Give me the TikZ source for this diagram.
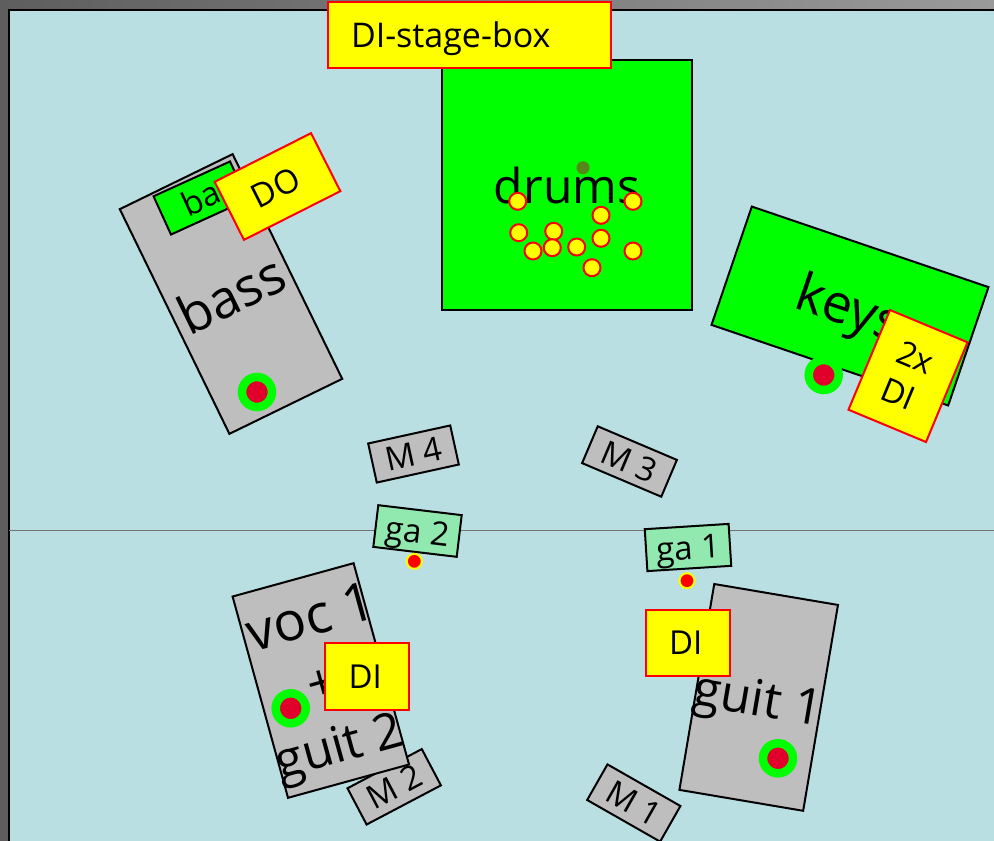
\documentclass[tikz,border=0pt]{standalone}
\usepackage{fontspec}
\setmainfont{Open Sans}
\usepackage{xcolor}
\usetikzlibrary{positioning}
\definecolor{stagebg}{HTML}{B9DFE3}
\definecolor{stagegrey}{HTML}{BEBEBE}
\definecolor{ampgreen}{HTML}{92E9B0}
\definecolor{micred}{HTML}{E0002B}
\definecolor{frameleft}{HTML}{5E5E5E}
\definecolor{frameright}{HTML}{9A9A9A}
\definecolor{diyellow}{RGB}{255,255,0}
\definecolor{deskgreen}{RGB}{0,255,0}
\definecolor{plugred}{RGB}{255,0,0}
\begin{document}
\begin{tikzpicture}[x=1pt, y=-1pt]
  \tikzset{instr/.style={draw=black, line width=2pt, align=center, inner sep=0pt, font=\fontsize{50}{65}\selectfont},
    greybox/.style={instr, fill=stagegrey},
    greenbox/.style={instr, fill=deskgreen},
    mon/.style={greybox, minimum width=84pt, minimum height=40pt, font=\fontsize{33}{40}\selectfont},
    amp/.style={instr, fill=ampgreen, minimum width=84pt, minimum height=42pt, text depth=0pt, font=\fontsize{33}{40}\selectfont},
    dibox/.style={draw=plugred, line width=2pt, fill=diyellow, align=center, inner sep=0pt, font=\fontsize{33}{40}\selectfont},
    plug/.style={circle, draw=plugred, line width=2pt, fill=diyellow, inner sep=0pt, minimum size=17pt},
    vocdot/.style={circle, draw=diyellow, line width=2pt, fill=plugred, inner sep=0pt, minimum size=15pt},
    stand/.style={circle, draw=deskgreen, line width=8.5pt, fill=micred, inner sep=0pt, minimum size=30pt}}
  \useasboundingbox (0,0) rectangle (994,841);
  \fill[left color=frameleft, right color=frameright] (0,0) rectangle (994,841);
  \filldraw[fill=stagebg, draw=black, line width=2.5pt] (9,10) rectangle (1000,850);
  \coordinate (rimL) at (9,530);
  \coordinate (rimR) at (994,530);
  \draw[line width=0.8pt, black!55] (rimL) -- (rimR);
  % back line
  \node[greenbox, minimum width=250pt, minimum height=250pt, font=\fontsize{48}{60}\selectfont] (drums) at (567,185) {drums};
  \node[greybox, minimum width=125.5pt, minimum height=250pt, rotate=26, font=\fontsize{53}{60}\selectfont] (bass) at (231,294) {bass};
  \node[greenbox, minimum width=84pt, minimum height=42pt, rotate=24.5, font=\fontsize{33}{40}\selectfont] (bamp) at (200.5,198) {ba};
  \node[dibox, minimum width=108pt, minimum height=65pt, rotate=26.8] (do) at (277.5,186.5) {DO\kern4pt};
  \node[greenbox, minimum width=250pt, minimum height=125pt, rotate=-18.8, text depth=0pt, font=\fontsize{53}{60}\selectfont] (keys) at (850,306) {keys};
  \node[dibox, minimum width=84pt, minimum height=108pt, rotate=-22.6] (keysdi) at (908,376) {2x\\DI\kern4pt};
  \node[dibox, minimum width=283pt, minimum height=66pt, align=left, text width=237pt, text depth=0pt, font=\fontsize{34}{40}\selectfont] (stagebox) at (469.5,35) {DI-stage-box};
  % monitors
  \node[mon, rotate=12.4] (m4) at (413.5,454) {M 4};
  \node[mon, rotate=-23, minimum width=86pt] (m3) at (629.5,461.5) {M 3};
  \node[mon, rotate=27.8, minimum height=41pt] (m2) at (394.2,786.8) {M 2};
  \node[mon, rotate=-29.7, minimum height=41pt] (m1) at (633.8,803) {M 1};
  % front line
  \node[amp, rotate=-6.8] (ga2) at (417.5,531) {ga 2};
  \node[amp, rotate=3.6] (ga1) at (688,547.5) {ga 1};
  \node[greybox, minimum width=125.5pt, minimum height=208.8pt, rotate=15.4] (voc) at (320.8,680.5) {\rule{0pt}{51pt}\makebox[0pt]{\fontsize{54}{65}\selectfont\kern14pt voc 1}\\+\\\makebox[0pt]{guit 2}};
  \node[greybox, minimum width=125.5pt, minimum height=208.8pt, rotate=-9.6, text depth=0pt] (guit) at (758.7,697.4) {\makebox[0pt]{guit 1}};
  \node[dibox, minimum width=84pt, minimum height=66.5pt] (dil) at (367.3,676.7) {DI\kern4pt};
  \node[dibox, minimum width=84pt, minimum height=66.5pt] (dir) at (687.8,643) {DI\kern4pt};
  % drum mics
  \node[circle, fill=black!30!olive, inner sep=0pt, minimum size=13pt, opacity=0.8] (overhead) at (583,167.7) {};
  \foreach \px/\py [count=\i] in {517.7/201.3, 633/201.3, 601/215.3, 518.7/232.7, 553.7/231.3, 601/238.3, 533/251, 552.3/247.7, 576.7/247, 633/251, 592/267.7}
    \node[plug] (plug\i) at (\px,\py) {};
  \node[vocdot] (mic2) at (414.3,561.3) {};
  \node[vocdot] (mic1) at (687,580.7) {};
  \node[stand] (posbass) at (257,392) {};
  \node[stand] (poskeys) at (823.7,375) {};
  \node[stand] (posvoc) at (290.7,708.3) {};
  \node[stand] (posguit) at (778,758.3) {};
\end{tikzpicture}
\end{document}
